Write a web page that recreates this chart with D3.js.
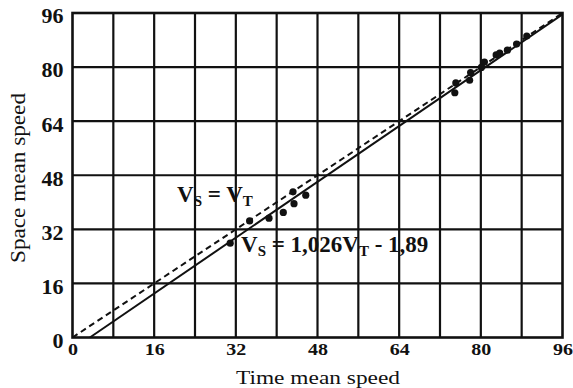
<!DOCTYPE html>
<html><head><meta charset="utf-8">
<script src="https://cdn.jsdelivr.net/npm/d3@7"></script>
<style>
html,body{margin:0;padding:0;background:#fff;}
svg{display:block;}
svg text{font-family:"Liberation Serif","Times New Roman",Tinos,Times,serif;}
</style></head>
<body>
<svg id="c" width="573" height="388"></svg>
<script>
// ---- data ----
const timeSpeed  = [30.9, 34.7, 38.5, 41.3, 43.4, 43.2, 45.7, 74.9, 75.1, 77.8, 78.0, 80.1, 80.7, 83.0, 83.7, 85.2, 87.0, 89.0];
const spaceSpeed = [27.9, 34.5, 35.3, 37.0, 39.6, 43.1, 42.1, 72.4, 75.3, 76.1, 78.4, 79.9, 81.5, 83.6, 84.1, 85.0, 86.8, 89.2];
const tickValues = [0, 16, 32, 48, 64, 80, 96];
const xGridValues = [8, 16, 24, 32, 40, 48, 56, 64, 72, 80, 88];
const yGridValues = [16, 32, 48, 64, 80];
const identityLine = [[0, 0], [96, 96]];
const fitLine = [[3.4, 0], [96, 95.6]];
const xTitle = "Time mean speed";
const yTitle = "Space mean speed";

// ---- layout ----
const L = 72.5, R = 562.5, T = 13, B = 337.5;
const svg = d3.select("#c");
const x = d3.scaleLinear().domain([0, 96]).range([L, R]);
const y = d3.scaleLinear().domain([0, 96]).range([B, T]);

// grid
const g = svg.append("g").attr("stroke", "#111").attr("stroke-width", 2.2);
g.selectAll(".vx").data(xGridValues).enter().append("line")
  .attr("x1", d => x(d)).attr("x2", d => x(d)).attr("y1", T).attr("y2", B);
g.selectAll(".hy").data(yGridValues).enter().append("line")
  .attr("y1", d => y(d)).attr("y2", d => y(d)).attr("x1", L).attr("x2", R);
svg.append("rect").attr("x", L).attr("y", T).attr("width", R - L).attr("height", B - T)
  .attr("fill", "none").attr("stroke", "#111").attr("stroke-width", 2.6);

// axes (labels only)
const xAxis = svg.append("g").attr("transform", `translate(0,${B})`)
  .call(d3.axisBottom(x).tickValues(tickValues).tickSize(0).tickPadding(5).tickFormat(d3.format("d")));
xAxis.select(".domain").remove();
xAxis.selectAll("text").style("font-family", "'Liberation Serif','Times New Roman',serif").attr("font-weight", "bold")
  .attr("font-size", 17).attr("fill", "#111").attr("dy", "0.71em")
  .attr("textLength", d => String(d).length * 10).attr("lengthAdjust", "spacingAndGlyphs");

const yAxis = svg.append("g").attr("transform", `translate(${L},0)`)
  .call(d3.axisLeft(y).tickValues(tickValues).tickSize(0).tickPadding(9).tickFormat(d3.format("d")));
yAxis.select(".domain").remove();
yAxis.selectAll("text").style("font-family", "'Liberation Serif','Times New Roman',serif").attr("font-weight", "bold")
  .attr("font-size", 22).attr("fill", "#111").attr("dy", "0.45em");

// lines
const line = d3.line().x(d => x(d[0])).y(d => y(d[1]));
svg.append("path").datum(identityLine).attr("d", line).attr("fill", "none")
  .attr("stroke", "#111").attr("stroke-width", 2).attr("stroke-dasharray", "6,4");
svg.append("path").datum(fitLine).attr("d", line).attr("fill", "none")
  .attr("stroke", "#111").attr("stroke-width", 2);

// points
svg.append("g").selectAll("circle").data(timeSpeed).enter().append("circle")
  .attr("cx", d => x(d)).attr("cy", (d, i) => y(spaceSpeed[i])).attr("r", 3.6).attr("fill", "#111");

// annotations
function label(px, py, parts) {
  const t = svg.append("text").attr("x", px).attr("y", py)
    .attr("font-weight", "bold").attr("font-size", 23).attr("fill", "#111");
  parts.forEach(p => {
    const s = t.append("tspan").text(p.t);
    if (p.sub) s.attr("font-size", 15).attr("dy", 4);
    else if (p.after) s.attr("dy", -4);
  });
}
label(177, 202, [{t:"V"},{t:"S",sub:true},{t:" = V",after:true},{t:"T",sub:true}]);
label(241, 252, [{t:"V"},{t:"S",sub:true},{t:" = 1,026V",after:true},{t:"T",sub:true},{t:" - 1,89",after:true}]);

// axis titles
svg.append("text").attr("x", 318).attr("y", 384).attr("text-anchor", "middle")
  .attr("font-size", 19).attr("fill", "#111")
  .attr("textLength", 164).attr("lengthAdjust", "spacingAndGlyphs").text(xTitle);
svg.append("text").attr("transform", "translate(25,178) rotate(-90)").attr("text-anchor", "middle")
  .attr("font-size", 20).attr("fill", "#111")
  .attr("textLength", 170).attr("lengthAdjust", "spacingAndGlyphs").text(yTitle);
</script>
</body></html>
